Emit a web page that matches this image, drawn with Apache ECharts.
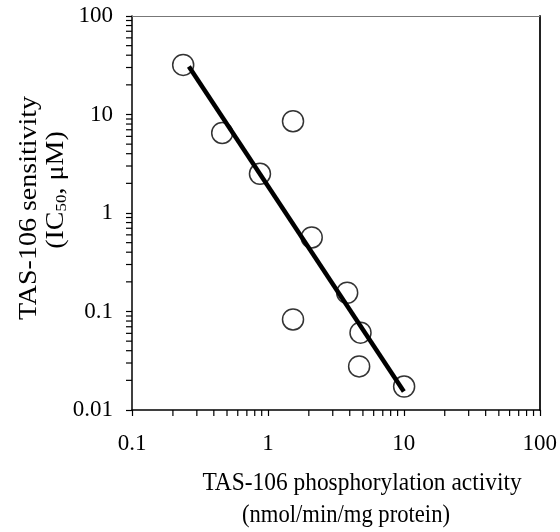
<!DOCTYPE html>
<html>
<head>
<meta charset="utf-8">
<script src="https://cdn.jsdelivr.net/npm/echarts@6/dist/echarts.min.js"></script>
<style>html,body{margin:0;padding:0;background:#fff}#c{width:560px;height:532px}</style>
</head>
<body>
<div id="c"></div>
<script>
// Data
var activity = [0.238, 0.461, 0.874, 1.53, 2.10, 3.83, 1.53, 4.80, 4.69, 10.05];
var ic50 = [31.9, 6.5, 2.5, 8.55, 0.565, 0.155, 0.083, 0.061, 0.0277, 0.0173];
var fitX = [0.262, 10.0];
var fitY = [30.7, 0.0154];
var xTicks = [0.1, 1, 10, 100];
var yTicks = [0.01, 0.1, 1, 10, 100];
var xTitle = ['TAS-106 phosphorylation activity', '(nmol/min/mg protein)'];
var yTitle = ['TAS-106 sensitivity', '(IC{sub|50}, \u03bcM)'];

var FONT = 'Liberation Serif';
var points = activity.map(function (v, i) { return [v, ic50[i]]; });
var fit = fitX.map(function (v, i) { return [v, fitY[i]]; });

function minorValues(ticks) {
  var out = [];
  for (var i = 0; i < ticks.length - 1; i++) {
    for (var k = 2; k <= 9; k++) out.push(+(ticks[i] * k).toPrecision(6));
  }
  return out;
}
var xMinor = minorValues(xTicks);
var yMinor = minorValues(yTicks);

var chart = echarts.init(document.getElementById('c'), null, {renderer: 'canvas'});
var TICKLEN = 6;
function fmt(v) { return String(+v.toPrecision(6)); }

chart.setOption({
  animation: false,
  backgroundColor: '#fff',
  grid: {left: 132, right: 19, top: 16, bottom: 122, containLabel: false},
  xAxis: [{
    type: 'log', logBase: 10, min: xTicks[0], max: xTicks[xTicks.length - 1],
    axisLine: {show: true, lineStyle: {color: '#000', width: 1.5}},
    axisTick: {show: true, inside: false, length: TICKLEN, lineStyle: {color: '#000', width: 1.2}},
    splitLine: {show: false},
    axisLabel: {fontFamily: FONT, fontSize: 23, color: '#000', margin: 22, formatter: fmt}
  }, {
    type: 'log', logBase: 10, min: xTicks[0], max: xTicks[xTicks.length - 1], position: 'top',
    axisLine: {show: true, lineStyle: {color: '#777', width: 1}},
    axisTick: {show: false}, axisLabel: {show: false}, splitLine: {show: false}
  }],
  yAxis: [{
    type: 'log', logBase: 10, min: yTicks[0], max: yTicks[yTicks.length - 1],
    axisLine: {show: true, lineStyle: {color: '#000', width: 1.5}},
    axisTick: {show: true, inside: false, length: TICKLEN, lineStyle: {color: '#000', width: 1.2}},
    splitLine: {show: false},
    axisLabel: {fontFamily: FONT, fontSize: 23, color: '#000', margin: 19, formatter: fmt}
  }, {
    type: 'log', logBase: 10, min: yTicks[0], max: yTicks[yTicks.length - 1], position: 'right',
    axisLine: {show: true, lineStyle: {color: '#222', width: 2}},
    axisTick: {show: false}, axisLabel: {show: false}, splitLine: {show: false}
  }],
  series: [{
    type: 'custom',
    coordinateSystem: 'cartesian2d',
    data: xMinor.map(function (v) { return [v, yTicks[0]]; }),
    renderItem: function (params, api) {
      var p = api.coord([api.value(0), api.value(1)]);
      return {type: 'line', shape: {x1: p[0], y1: p[1], x2: p[0], y2: p[1] + TICKLEN},
        style: {stroke: '#000', lineWidth: 1.2}};
    },
    silent: true, z: 1
  }, {
    type: 'custom',
    coordinateSystem: 'cartesian2d',
    data: yMinor.map(function (v) { return [xTicks[0], v]; }),
    renderItem: function (params, api) {
      var p = api.coord([api.value(0), api.value(1)]);
      return {type: 'line', shape: {x1: p[0] - TICKLEN, y1: p[1], x2: p[0], y2: p[1]},
        style: {stroke: '#000', lineWidth: 1.2}};
    },
    silent: true, z: 1
  }, {
    type: 'line',
    data: fit,
    symbol: 'none',
    lineStyle: {color: '#000', width: 4.5},
    z: 3
  }, {
    type: 'scatter',
    data: points,
    symbol: 'circle',
    symbolSize: 21,
    itemStyle: {color: 'rgba(255,255,255,0)', borderColor: '#000', borderWidth: 1.5},
    z: 2
  }],
  graphic: [
    {type: 'text', x: 362, y: 483, scaleX: 0.9, scaleY: 1,
      style: {text: xTitle[0], font: '26px "' + FONT + '"', fill: '#000', align: 'center', verticalAlign: 'middle'}},
    {type: 'text', x: 346, y: 515, scaleX: 0.87, scaleY: 1,
      style: {text: xTitle[1], font: '26px "' + FONT + '"', fill: '#000', align: 'center', verticalAlign: 'middle'}},
    {type: 'text', x: 30, y: 208, rotation: Math.PI / 2, scaleX: 1, scaleY: 0.88,
      style: {text: yTitle[0], font: '28px "' + FONT + '"', fill: '#000', align: 'center', verticalAlign: 'middle'}},
    {type: 'text', x: 57, y: 190, rotation: Math.PI / 2, scaleX: 1, scaleY: 0.88,
      style: {text: yTitle[1], font: '28px "' + FONT + '"', fill: '#000', align: 'center', verticalAlign: 'middle',
        rich: {sub: {font: '17px "' + FONT + '"', verticalAlign: 'bottom', padding: [10, 0, 0, 0]}}}}
  ]
});
</script>
</body>
</html>
